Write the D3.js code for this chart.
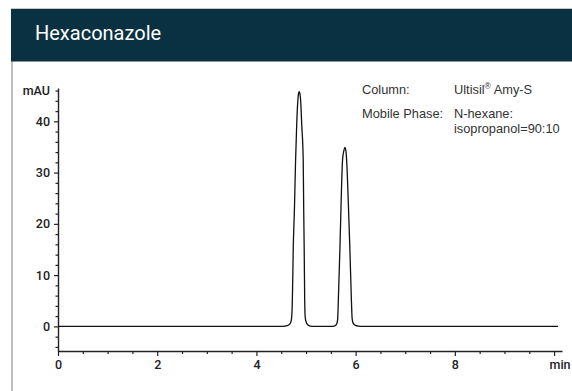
<!DOCTYPE html>
<html>
<head>
<meta charset="utf-8">
<script src="https://cdn.jsdelivr.net/npm/d3@7"></script>
<style>
  html, body { margin: 0; padding: 0; background: #fff; }
  svg { display: block; }
</style>
</head>
<body>
<svg id="chart" width="572" height="391"></svg>
<script>
// ---- data ----
const title = "Hexaconazole";
const timeMin = [0, 4.50, 4.534, 4.615, 4.665, 4.695, 4.711, 4.725, 4.742, 4.766, 4.790, 4.812, 4.832, 4.848, 4.860, 4.874, 4.893, 4.913, 4.943, 4.953, 4.963, 4.973, 4.983, 5.002, 5.034, 5.088, 5.159,
  5.542, 5.592, 5.622, 5.638, 5.652, 5.683, 5.709, 5.737, 5.763, 5.783, 5.803, 5.818, 5.850, 5.884, 5.914, 5.930, 5.951, 5.995, 6.065, 6.126, 10.08];
const signalMAU = [0, 0, 0, 0.14, 0.39, 0.87, 1.85, 5.3, 15.1, 22.8, 32.6, 39.4, 43.6, 45.4, 45.8, 45.5, 43.8, 39.4, 32.6, 22.8, 15.1, 5.3, 1.85, 0.87, 0.33, 0.06, 0,
  0, 0.19, 0.58, 1.46, 5.3, 15.1, 24.8, 32.6, 34.3, 34.9, 34.3, 32.6, 24.8, 15.1, 5.3, 1.46, 0.58, 0.19, 0.04, 0, 0];
const xMajorTicks = [0, 2, 4, 6, 8, 10];
const xMinorTicks = [0.5, 1, 1.5, 2.5, 3, 3.5, 4.5, 5, 5.5, 6.5, 7, 7.5, 8.5, 9, 9.5];
const yMajorTicks = [0, 10, 20, 30, 40];
const yMinorTicks = [-4, -2, 2, 4, 6, 8, 12, 14, 16, 18, 22, 24, 26, 28, 32, 34, 36, 38, 42, 44, 46];
const xUnit = "min";
const yUnit = "mAU";
const infoLabels = ["Column:", "Mobile Phase:"];
const infoValues = [["Ultisil|\u00AE| Amy-S"], ["N-hexane:", "isopropanol=90:10"]];

// ---- drawing ----
const svg = d3.select("#chart");

// frame & header
svg.append("line").attr("x1", 11).attr("x2", 572).attr("y1", 8.5).attr("y2", 8.5)
  .attr("stroke", "#c8c8c8").attr("stroke-width", 1);
svg.append("line").attr("x1", 12).attr("x2", 12).attr("y1", 9).attr("y2", 391)
  .attr("stroke", "#7a7a7a").attr("stroke-width", 1);
svg.append("rect").attr("x", 11).attr("y", 9).attr("width", 561).attr("height", 52.5)
  .attr("fill", "#0a3141");
svg.append("text").attr("x", 35).attr("y", 40)
  .attr("fill", "#ffffff").attr("font-family", "Roboto, sans-serif")
  .attr("font-size", 20).attr("font-weight", 400)
  .text(title);

const x = d3.scaleLinear().domain([0, 10.16]).range([58, 562]);
const y = d3.scaleLinear().domain([-4.8, 46.5]).range([351, 88]);

const axisColor = "#222";
const tickFont = "Roboto, sans-serif";
const tickSize = 12.5;

// x axis
const gx = svg.append("g").attr("transform", `translate(0,${y(-4.8)})`);
gx.call(d3.axisBottom(x).tickValues(xMinorTicks).tickSize(3).tickFormat(""));
gx.call(g => g.select(".domain").remove());
const gx2 = svg.append("g").attr("transform", `translate(0,${y(-4.8)})`);
gx2.call(d3.axisBottom(x).tickValues(xMajorTicks).tickSize(5).tickSizeOuter(0).tickPadding(4)
  .tickFormat(d => d === 10 ? xUnit : d));
[gx, gx2].forEach(g => {
  g.selectAll("line").attr("stroke", axisColor).attr("stroke-width", 1.2);
  g.selectAll("path").attr("stroke", axisColor).attr("stroke-width", 1.4);
  g.selectAll("text").attr("fill", "#222").attr("font-family", tickFont)
    .attr("font-size", tickSize).attr("font-weight", 500);
});
gx2.selectAll(".tick").filter(d => d === 10).select("text").attr("dx", 5.5);

// y axis
const gy = svg.append("g").attr("transform", `translate(${x(0)},0)`);
gy.call(d3.axisLeft(y).tickValues(yMinorTicks).tickSize(2.5).tickFormat(""));
gy.call(g => g.select(".domain").remove());
const gy2 = svg.append("g").attr("transform", `translate(${x(0)},0)`);
gy2.call(d3.axisLeft(y).tickValues(yMajorTicks).tickSize(4).tickSizeOuter(0).tickPadding(4));
[gy, gy2].forEach(g => {
  g.selectAll("line").attr("stroke", axisColor).attr("stroke-width", 1.2);
  g.selectAll("path").attr("stroke", axisColor).attr("stroke-width", 1.4);
  g.selectAll("text").attr("fill", "#222").attr("font-family", tickFont)
    .attr("font-size", tickSize).attr("font-weight", 500);
});
svg.append("text").attr("x", 50).attr("y", y(45.9)).attr("dy", "0.32em")
  .attr("text-anchor", "end").attr("fill", "#222").attr("font-family", tickFont)
  .attr("font-size", tickSize).attr("font-weight", 500).text(yUnit);

// chromatogram
const pts = timeMin.map((t, i) => [t, signalMAU[i]]);
svg.append("path").datum(pts)
  .attr("fill", "none").attr("stroke", "#111").attr("stroke-width", 1.3)
  .attr("stroke-linejoin", "round")
  .attr("d", d3.line().x(d => x(d[0])).y(d => y(d[1])).curve(d3.curveMonotoneX));

// info text
const infoFont = "'Liberation Sans', Arial, sans-serif";
const rowY = [93.5, 118];
infoLabels.forEach((lab, i) => {
  svg.append("text").attr("x", 362).attr("y", rowY[i]).attr("fill", "#333")
    .attr("font-family", infoFont).attr("font-size", 12.8).text(lab);
  infoValues[i].forEach((v, j) => {
    const t = svg.append("text").attr("x", 454).attr("y", rowY[i] + j * 14.5).attr("fill", "#333")
      .attr("font-family", infoFont).attr("font-size", 12.8);
    const parts = v.split("|");
    parts.forEach((p, k) => {
      const ts = t.append("tspan").text(p);
      if (k === 1) ts.attr("font-size", 8.5).attr("baseline-shift", "super");
    });
  });
});
</script>
</body>
</html>
